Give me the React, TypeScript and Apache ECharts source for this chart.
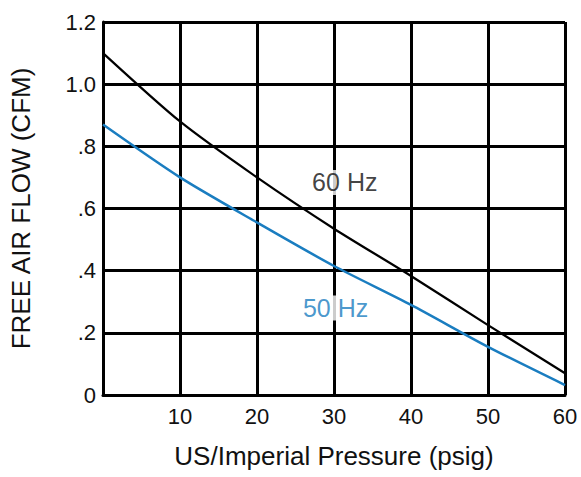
import React, { useEffect, useRef } from "react";
import * as echarts from "echarts";

const pressure = [0, 10, 20, 30, 40, 50, 60];
const flow60Hz = [1.1, 0.88, 0.7, 0.535, 0.383, 0.225, 0.07];
const flow50Hz = [0.87, 0.70, 0.555, 0.415, 0.29, 0.155, 0.032];
const yTicks = [0, 0.2, 0.4, 0.6, 0.8, 1.0, 1.2];
const seriesLabels = ["60 Hz", "50 Hz"];
const labelPositions = [
  [31.4, 0.684],
  [30.2, 0.28],
];

const FONT = "Liberation Sans, Arial, Helvetica, sans-serif";

function fmtY(v: number): string {
  if (v === 0) return "0";
  if (v >= 1) return v.toFixed(1);
  return "." + Math.round(v * 10).toString();
}

export default function App() {
  const ref = useRef<HTMLDivElement>(null);
  useEffect(() => {
    if (!ref.current) return;
    const chart = echarts.init(ref.current, undefined, { renderer: "svg" });
    const lineColors = ["#000000", "#1a7dc0"];
    chart.setOption({
      animation: false,
      grid: { left: 98, right: 16, top: 22, bottom: 82, containLabel: false },
      xAxis: {
        type: "value",
        min: 0,
        max: 60,
        interval: 10,
        name: "US/Imperial Pressure (psig)",
        nameLocation: "middle",
        nameGap: 48,
        nameTextStyle: { color: "#111", fontSize: 26, fontFamily: FONT },
        axisLine: { show: true, lineStyle: { color: "#000", width: 3 } },
        axisTick: { show: false },
        axisLabel: {
          color: "#111",
          fontSize: 22,
          fontFamily: FONT,
          margin: 10,
          formatter: (v: number) => (v === 0 ? "" : String(v)),
        },
        splitLine: { show: true, lineStyle: { color: "#000", width: 3 } },
      },
      yAxis: {
        type: "value",
        min: 0,
        max: 1.2,
        interval: 0.2,
        name: "FREE AIR FLOW (CFM)",
        nameLocation: "middle",
        nameGap: 69,
        nameRotate: 90,
        nameTextStyle: { color: "#111", fontSize: 26, fontFamily: FONT },
        axisLine: { show: true, lineStyle: { color: "#000", width: 3 } },
        axisTick: { show: false },
        axisLabel: {
          color: "#111",
          fontSize: 22,
          fontFamily: FONT,
          margin: 7,
          formatter: (v: number) => {
            const t = yTicks.find((y) => Math.abs(y - v) < 1e-6);
            return fmtY(t ?? v);
          },
        },
        splitLine: { show: true, lineStyle: { color: "#000", width: 3 } },
      },
      series: [
        {
          type: "line",
          name: seriesLabels[0],
          data: pressure.map((p, i) => [p, flow60Hz[i]]),
          smooth: 0.25,
          symbol: "none",
          lineStyle: { color: lineColors[0], width: 2.2 },
          z: 3,
        },
        {
          type: "line",
          name: seriesLabels[1],
          data: pressure.map((p, i) => [p, flow50Hz[i]]),
          smooth: 0.25,
          symbol: "none",
          lineStyle: { color: lineColors[1], width: 2.5 },
          z: 3,
        },
        {
          type: "scatter",
          symbolSize: 0,
          silent: true,
          data: labelPositions.map((pos, i) => ({
            value: pos,
            label: {
              show: true,
              position: "inside",
              formatter: seriesLabels[i],
              color: lineColors[i] === "#000000" ? "#111" : lineColors[i],
              fontSize: 25,
              fontFamily: FONT,
              backgroundColor: "#fff",
              padding: [0, 1],
            },
          })),
          z: 5,
        },
      ],
    });
    return () => chart.dispose();
  }, []);
  return (
    <div
      ref={ref}
      style={{ position: "fixed", left: 0, top: 0, width: 581, height: 477, background: "#fff" }}
    />
  );
}
